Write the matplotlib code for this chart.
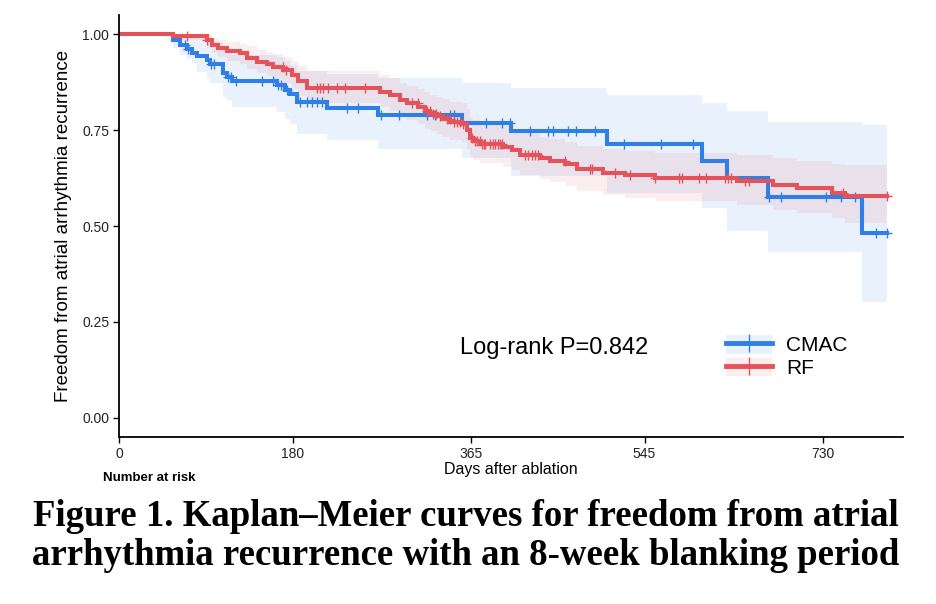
import numpy as np
import matplotlib
matplotlib.use("Agg")
import matplotlib.pyplot as plt
from matplotlib.lines import Line2D
from matplotlib.patches import Patch

plt.rcParams['font.family'] = ['Liberation Sans', 'DejaVu Sans']

# --- CMAC group: step times (days), survival, 95% CI ---
cmac_t = [0, 56.3, 63.2, 70.2, 75.3, 81.2, 90.9, 94.4, 108.2, 111.6, 116.8, 163.5, 172.1,
          177.3, 184.2, 215.3, 269, 356, 407, 505.7, 604.2, 630.1, 673.3, 770.8, 796.7]
cmac_s = [1, 0.984, 0.971, 0.961, 0.952, 0.943, 0.932, 0.923, 0.898, 0.889, 0.878, 0.867, 0.854,
          0.843, 0.822, 0.807, 0.790, 0.769, 0.747, 0.714, 0.670, 0.624, 0.576, 0.481, 0.481]
cmac_lo = [1, 0.965, 0.945, 0.935, 0.924, 0.902, 0.885, 0.872, 0.835, 0.828, 0.811, 0.798, 0.780,
           0.765, 0.741, 0.724, 0.702, 0.676, 0.630, 0.585, 0.546, 0.488, 0.431, 0.303, 0.303]
cmac_hi = [1, 1.0, 1.0, 1.0, 1.0, 0.995, 0.99, 0.98, 0.96, 0.955, 0.945, 0.94, 0.93,
           0.92, 0.905, 0.895, 0.885, 0.872, 0.859, 0.841, 0.821, 0.799, 0.772, 0.763, 0.763]
cmac_cens = [68, 72, 95, 98, 113, 116, 121, 148, 160, 165, 168, 174, 188, 195, 200, 205, 210,
             236, 248, 272, 290, 319, 328, 343, 347, 381, 397, 405, 426, 445, 450, 466, 474,
             494, 524, 562, 595, 674, 687, 733, 749, 763, 785, 796]

# --- RF group ---
rf_t = [0, 56, 90.9, 96.1, 103, 111.6, 125.5, 132.4, 142.8, 153.1, 160, 170.4, 179, 185.9,
        194.6, 270.6, 281, 291.4, 298.3, 310.4, 317.3, 322.5, 329.4, 336.3, 343.2, 355.3,
        360.5, 363.9, 367.4, 374.3, 398.5, 407.2, 415.8, 436.5, 446.9, 462.4, 474.6, 502.2,
        524.7, 555.8, 640.5, 678.5, 702.7, 739, 752.8, 796.7]
rf_s = [1, 0.995, 0.984, 0.971, 0.963, 0.956, 0.950, 0.938, 0.928, 0.921, 0.915, 0.906, 0.893,
        0.878, 0.860, 0.850, 0.841, 0.828, 0.820, 0.811, 0.800, 0.793, 0.786, 0.780, 0.772,
        0.767, 0.750, 0.730, 0.722, 0.715, 0.706, 0.698, 0.686, 0.676, 0.670, 0.661, 0.648,
        0.639, 0.633, 0.626, 0.618, 0.607, 0.598, 0.587, 0.578, 0.578]
rf_lo = [1, 0.985, 0.965, 0.95, 0.94, 0.93, 0.922, 0.91, 0.898, 0.89, 0.882, 0.872, 0.857,
         0.84, 0.82, 0.81, 0.80, 0.785, 0.776, 0.766, 0.754, 0.747, 0.739, 0.732, 0.724,
         0.718, 0.70, 0.68, 0.672, 0.665, 0.655, 0.645, 0.632, 0.622, 0.615, 0.604, 0.59,
         0.58, 0.573, 0.565, 0.555, 0.543, 0.533, 0.52, 0.507, 0.507]
rf_hi = [1, 1.0, 1.0, 0.99, 0.985, 0.98, 0.975, 0.968, 0.96, 0.953, 0.948, 0.94, 0.93,
         0.918, 0.904, 0.893, 0.885, 0.873, 0.865, 0.858, 0.848, 0.842, 0.836, 0.831, 0.824,
         0.82, 0.804, 0.785, 0.777, 0.768, 0.76, 0.752, 0.742, 0.733, 0.727, 0.72, 0.708,
         0.70, 0.696, 0.69, 0.684, 0.676, 0.67, 0.662, 0.659, 0.659]
rf_cens = [71, 91, 170, 173, 205, 208, 212, 217, 226, 234, 255, 304, 310, 319, 322, 326, 329,
           333, 340, 343, 347, 350, 354, 357, 366, 369, 371, 374, 376, 378, 380, 385, 388,
           390, 393, 395, 397, 421, 424, 428, 431, 435, 462, 488, 491, 514, 530, 556, 581,
           584, 601, 609, 628, 632, 635, 649, 653, 751, 796]

groups = ['CMAC', 'RF']
colors = ['#2F7FE6', '#E4535A']
xticks = [0, 180, 365, 545, 730]
yticks = [0, 0.25, 0.5, 0.75, 1.0]

fig = plt.figure(figsize=(9.37, 6.04), dpi=100)
ax = fig.add_axes([119/937, 1-437/604, 784/937, 422/604])

data = [(cmac_t, cmac_s, cmac_lo, cmac_hi, cmac_cens),
        (rf_t, rf_s, rf_lo, rf_hi, rf_cens)]

# confidence ribbons first, then the curves on top
for (t, s, lo, hi, c), col in zip(data, colors):
    ax.fill_between(t, lo, hi, step='post', color=col, alpha=0.1, lw=0)
for (t, s, lo, hi, c), col in zip(data, colors):
    ax.step(t, s, where='post', color=col, lw=2.9, solid_joinstyle='miter')
    t_arr = np.array(t)
    idx = np.searchsorted(t_arr, c, side='right') - 1
    ax.plot(c, np.array(s)[idx], ls='none', marker='+', ms=7, mew=1, color=col)

ax.set_xlim(0, 813)
ax.set_ylim(-0.05, 1.05)
ax.set_xticks(xticks)
ax.set_xticklabels([str(v) for v in xticks])
ax.set_yticks(yticks)
ax.set_yticklabels(['%.2f' % v for v in yticks])
ax.tick_params(length=4, width=1, labelsize=10, labelcolor='#222222', pad=3)
for sp in ['top', 'right']:
    ax.spines[sp].set_visible(False)
for sp in ['left', 'bottom']:
    ax.spines[sp].set_linewidth(1.3)

ax.set_ylabel('Freedom from atrial arrhythmia recurrence', fontsize=13.5, va='center')
ax.yaxis.set_label_coords(-0.0714, 0.5)
ax.set_xlabel('Days after ablation', fontsize=11.5, va='center')
ax.xaxis.set_label_coords(0.5, -0.078)

fig.text(460/937, 1-348/604, 'Log-rank P=0.842', fontsize=17, va='center', ha='left')

handles = []
for col in colors:
    handles.append((Patch(facecolor=col, alpha=0.1, lw=0),
                    Line2D([], [], color=col, lw=3.5, marker='|', ms=13, mew=1)))
fig.legend(handles, groups, loc='upper left', bbox_to_anchor=(726/937, 1-335/604),
           frameon=False, fontsize=15, handlelength=2.2, handleheight=1.0,
           labelspacing=0.1, handletextpad=0.7, borderpad=0, borderaxespad=0)

fig.text(103/937, 1-478/604, 'Number at risk', fontsize=9.5, fontweight='bold', va='center')

cap_font = ['Liberation Serif', 'DejaVu Serif']
fig.text(465.5/937, 1-526.5/604, 'Figure 1. Kaplan\u2013Meier curves for freedom from atrial',
         fontsize=26.5, fontweight='bold', family=cap_font, ha='center', va='baseline')
fig.text(465.5/937, 1-565/604, 'arrhythmia recurrence with an 8-week blanking period',
         fontsize=26.5, fontweight='bold', family=cap_font, ha='center', va='baseline')

fig.savefig('out.png', dpi=100)
